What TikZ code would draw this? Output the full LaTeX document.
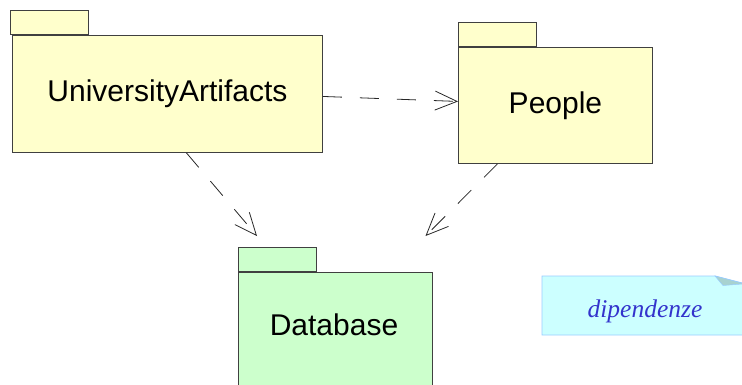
\documentclass[tikz,border=0pt]{standalone}
\usepackage{fontspec}
\setmainfont{Liberation Sans}
\newfontfamily\notefont{Liberation Serif}
\usetikzlibrary{arrows.meta}
\definecolor{pkgyellow}{HTML}{FFFFCC}
\definecolor{pkggreen}{HTML}{CCFFCC}
\definecolor{pkgline}{HTML}{404040}
\definecolor{notefill}{HTML}{CCFFFF}
\definecolor{noteline}{HTML}{99CCFF}
\definecolor{notefold}{HTML}{A8D2D0}
\definecolor{notetextc}{HTML}{3333CC}
\tikzset{
  pkgbody/.style={draw=pkgline, line width=0.9pt, inner sep=0pt, font=\fontsize{30}{36}\selectfont},
  pkgtab/.style={draw=pkgline, line width=0.9pt, inner sep=0pt, anchor=south west},
  dep/.style={draw=black!85, line width=0.8pt, dash pattern=on 19pt off 18pt,
    -{Straight Barb[length=22pt,width=19pt,line width=0.8pt]}},
  notetext/.style={text=notetextc, font=\notefont\itshape\fontsize{25.5}{30}\selectfont, inner sep=0pt}
}
\begin{document}
\begin{tikzpicture}[x=1pt,y=-1pt]
\useasboundingbox (0,0) rectangle (742,385);
% UniversityArtifacts
\node[pkgtab, fill=pkgyellow, minimum width=78pt, minimum height=24pt] (uatab) at (10,35) {};
\node[pkgbody, fill=pkgyellow, minimum width=310pt, minimum height=117pt, anchor=north west] (ua) at (12,35) {UniversityArtifacts};
% People
\node[pkgtab, fill=pkgyellow, minimum width=78pt, minimum height=24pt] (petab) at (458,47) {};
\node[pkgbody, fill=pkgyellow, minimum width=194pt, minimum height=116pt, anchor=north west] (pe) at (458,47) {People};
% Database
\node[pkgtab, fill=pkggreen, minimum width=78pt, minimum height=24pt] (dbtab) at (238,272) {};
\node[pkgbody, fill=pkggreen, minimum width=194pt, minimum height=120pt, anchor=north west] (db) at (238,272) {};
\node[pkgbody, draw=none] (dbt) at (334,325) {Database};
% dependencies
\coordinate (dbin1) at (257,236);
\coordinate (dbin2) at (425.5,236);
\draw[dep] ([yshift=-2.5pt]ua.east) -- ([yshift=4pt]pe.west);
\draw[dep] ([xshift=19pt]ua.south) -- (dbin1);
\draw[dep] ([xshift=-58pt]pe.south) -- (dbin2);
% note
\fill[notefill] (542,276) -- (715,276) -- (745,283.8) -- (745,335) -- (542,335) -- cycle;
\draw[noteline, line width=0.9pt] (745,335) -- (542,335) -- (542,276) -- (715,276) -- (745,283.8);
\filldraw[fill=notefold, draw=noteline, line width=0.5pt] (715,276) -- (745,283.8) -- (723,285.5) -- cycle;
\node[notetext] (nt) at (645,311) {dipendenze};
\end{tikzpicture}
\end{document}
